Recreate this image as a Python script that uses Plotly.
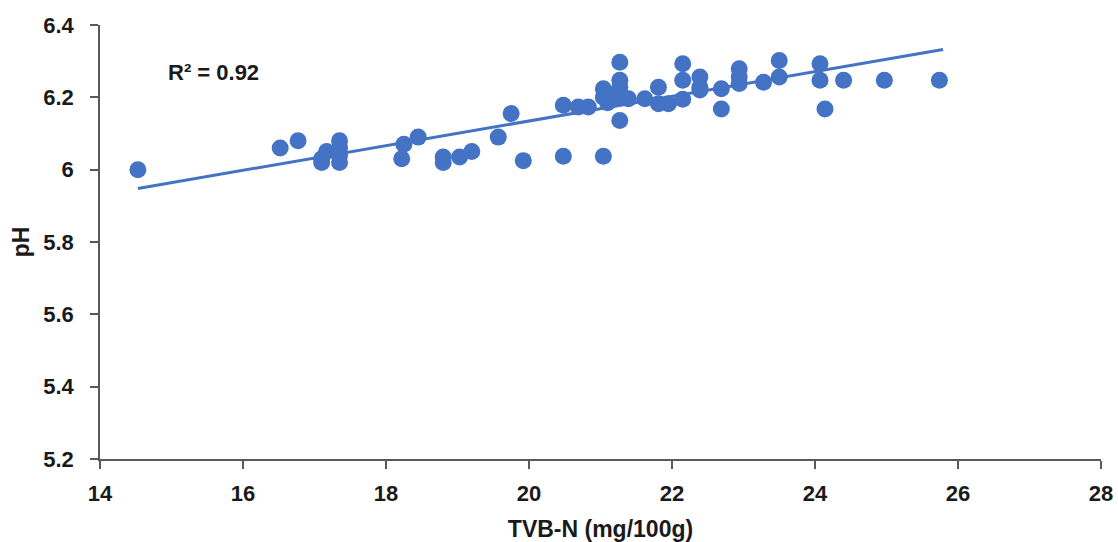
import plotly.graph_objects as go

tvbn = [14.53, 16.52, 16.77, 17.10, 17.10, 17.17, 17.35, 17.35, 17.35, 17.35,
        18.22, 18.25, 18.45, 18.80, 18.80, 19.03, 19.20, 19.57, 19.75, 19.92,
        20.48, 20.48, 20.69, 20.83, 21.04, 21.04, 21.04, 21.10, 21.10,
        21.27, 21.27, 21.27, 21.27, 21.27, 21.39, 21.62, 21.81, 21.81, 21.95,
        22.15, 22.15, 22.15, 22.39, 22.39, 22.39, 22.69, 22.69,
        22.94, 22.94, 22.94, 23.28, 23.50, 23.50, 24.07, 24.07, 24.14,
        24.40, 24.97, 25.74]
ph = [6.00, 6.06, 6.08, 6.03, 6.02, 6.05, 6.08, 6.06, 6.04, 6.02,
      6.03, 6.07, 6.09, 6.035, 6.02, 6.035, 6.05, 6.09, 6.155, 6.025,
      6.037, 6.178, 6.173, 6.173, 6.037, 6.224, 6.20, 6.185, 6.21,
      6.297, 6.247, 6.228, 6.20, 6.136, 6.196, 6.196, 6.228, 6.182, 6.182,
      6.293, 6.247, 6.195, 6.256, 6.228, 6.22, 6.224, 6.168,
      6.279, 6.256, 6.238, 6.242, 6.302, 6.256, 6.293, 6.247, 6.168,
      6.247, 6.247, 6.247]

trend_x = [14.53, 25.79]
trend_y = [5.948, 6.332]
r2_label = "R² = 0.92"

x_ticks = [14, 16, 18, 20, 22, 24, 26, 28]
y_ticks = [5.2, 5.4, 5.6, 5.8, 6.0, 6.2, 6.4]
y_ticktext = ["5.2", "5.4", "5.6", "5.8", "6", "6.2", "6.4"]

blue = "#4472C4"
axis_col = "#595959"
font = "Liberation Sans, Arial, sans-serif"

fig = go.Figure()
fig.add_trace(go.Scatter(x=tvbn, y=ph, mode="markers",
                         marker=dict(color=blue, size=17, line=dict(width=0)),
                         showlegend=False, hoverinfo="x+y"))
fig.add_trace(go.Scatter(x=trend_x, y=trend_y, mode="lines",
                         line=dict(color=blue, width=3),
                         showlegend=False))

fig.add_annotation(x=15.59, y=6.269, xref="x", yref="y", text="<b>" + r2_label + "</b>",
                   showarrow=False, font=dict(family=font, size=22, color="#1a1a1a"))

fig.update_layout(
    width=1118, height=542,
    margin=dict(l=100, r=17, t=24.5, b=83, autoexpand=False),
    plot_bgcolor="white", paper_bgcolor="white",
    font=dict(family=font, size=22, color="#1a1a1a"),
    xaxis=dict(range=[14, 28], tickvals=x_ticks, ticktext=[f"<b>{t}</b>" for t in x_ticks],
               automargin=False,
               showgrid=False, zeroline=False, showline=True, linecolor=axis_col, linewidth=1.5,
               ticks="outside", ticklen=8, tickcolor=axis_col, tickwidth=1.5,
               ticklabelstandoff=6,
               title=dict(text="<b>TVB-N (mg/100g)</b>", font=dict(size=23), standoff=16)),
    yaxis=dict(range=[5.2, 6.4], tickvals=y_ticks, ticktext=[f"<b>{t}</b>" for t in y_ticktext],
               automargin=False,
               showgrid=False, zeroline=False, showline=True, linecolor=axis_col, linewidth=1.5,
               ticks="outside", ticklen=8, tickcolor=axis_col, tickwidth=1.5,
               ticklabelstandoff=12,
               title=dict(text="<b>pH</b>", font=dict(size=23), standoff=7)),
)

fig.write_html("out.html", config={"displayModeBar": False},
               post_script="document.body.style.margin='0';document.body.style.overflow='hidden';")
